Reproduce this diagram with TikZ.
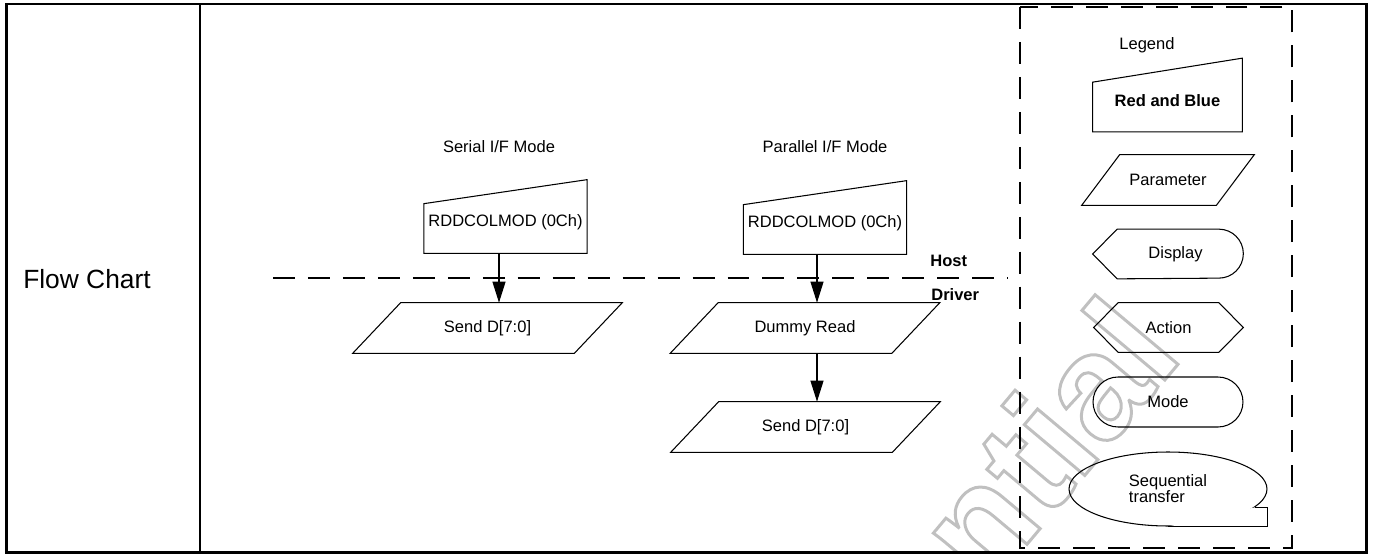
\documentclass[tikz,border=0pt]{standalone}
\usepackage{fontspec}
\setmainfont{Liberation Sans}
\usetikzlibrary{positioning,calc,arrows.meta,shapes.geometric,shapes.misc}
\definecolor{wmgray}{RGB}{192,192,192}
\makeatletter
\newcommand{\hollow}[1]{\pgfsys@invoke{1 Tr 1.7 w}#1\pgfsys@invoke{0 Tr}}
\makeatother

\begin{document}
\begin{tikzpicture}[
  x=0.02cm, y=-0.02cm,
  txt/.style={font=\fontsize{9.4}{9.2}\selectfont, inner sep=0pt},
  boldtxt/.style={font=\fontsize{9.4}{11}\selectfont\bfseries, inner sep=0pt},
  manin/.style={txt, minimum width=3.25cm, minimum height=1.22cm},
  para/.style={txt, minimum width=4.42cm, minimum height=1cm},
  shapeline/.style={line width=0.6pt},
  flowarr/.style={-{Triangle[length=0.42cm, width=0.26cm]}, line width=0.6pt},
  sepline/.style={line width=1.2pt, dash pattern=on 12.5pt off 7.4pt},
]

\useasboundingbox (0,0) rectangle (1374,554);

% watermark
\begin{scope}
  \clip (0,0) rectangle (1374,554);
  \node[text=wmgray, font=\fontsize{85}{85}\selectfont\bfseries, inner sep=0pt,
        rotate=50, anchor=base east] (wm) at (1185,356) {\hollow{Confidential}};
\end{scope}

% table frame
\draw[line width=1.4pt] (6.5,4) rectangle (1366.5,552.5);
\draw[line width=2pt] (6.5,4) -- (6.5,552.5) (1366.5,4) -- (1366.5,552.5);
\draw[line width=1.2pt] (200,4) -- (200,552.5);
\node[font=\fontsize{15}{18}\selectfont] (fc) at (87,279) {Flow Chart};

% host / driver border
\draw[sepline] (273,278) -- (1008,278);
\node[boldtxt, anchor=west] (host) at (930,261) {Host};
\node[boldtxt, anchor=west] (driver) at (931,295) {Driver};

% serial interface
\node[txt] (serlbl) at (499,147) {Serial I/F Mode};
\node[manin] (rdd1) at (505.5,222.5) {RDDCOLMOD (0Ch)};
\node[para] (send1) at (487.5,328) {Send D[7:0]};

% parallel interface
\node[txt] (parlbl) at (825,147) {Parallel I/F Mode};
\node[manin] (rdd2) at (825,223.5) {RDDCOLMOD (0Ch)};
\node[para] (dummy) at (805,328) {Dummy Read};
\node[para] (send2) at (805.5,427) {Send D[7:0]};

% legend
\draw[sepline] (1020,7) rectangle (1292,548);
\node[txt] (leg) at (1147,45) {Legend};
\node[manin, minimum width=2.98cm, font=\fontsize{9.4}{11}\selectfont\bfseries] (redblue) at (1167.5,101) {Red and Blue};
\node[para, minimum width=2.68cm] (param) at (1168,180) {Parameter};
\node[txt, minimum width=3cm, minimum height=0.98cm] (disp) at (1168,254) {\hspace*{0.3cm}Display};
\node[txt, minimum width=2.98cm, minimum height=0.98cm] (act) at (1168.5,327.5) {Action};
\node[txt, shapeline, draw, rounded rectangle, minimum width=3cm, minimum height=1cm] (mode) at (1168,402) {Mode};
\node[txt, shapeline, draw, ellipse, minimum width=3.96cm, minimum height=1.48cm, align=left] (seq) at (1168,489) {Sequential\\transfer};

% outlines
\foreach \n in {rdd1,rdd2,redblue}
  \draw[shapeline] ([yshift=-0.24cm]\n.north west) -- ([yshift=0.24cm]\n.north east)
    -- (\n.south east) -- (\n.south west) -- cycle;
\foreach \n/\s in {send1/0.48cm,dummy/0.48cm,send2/0.48cm,param/0.38cm}
  \draw[shapeline] ([xshift=-\s]\n.south west) -- ([xshift=\s]\n.north west)
    -- ([xshift=\s]\n.north east) -- ([xshift=-\s]\n.south east) -- cycle;
\draw[shapeline] (disp.west) -- ([xshift=0.49cm]disp.north west) -- ([xshift=-0.49cm]disp.north east)
  arc[start angle=90, end angle=-90, radius=0.49cm] -- ([xshift=0.49cm]disp.south west) -- cycle;
\draw[shapeline] (act.west) -- ([xshift=0.49cm]act.north west) -- ([xshift=-0.49cm]act.north east)
  -- (act.east) -- ([xshift=-0.49cm]act.south east) -- ([xshift=0.49cm]act.south west) -- cycle;
\draw[shapeline, fill=white] (seq.south) -- (seq.south -| seq.east) -- (seq.east |- seq.-12) -- (seq.-12);

% arrows
\draw[flowarr] ([xshift=-0.13cm]rdd1.south) -- ([xshift=-0.13cm]rdd1.south |- send1.north);
\draw[flowarr] ([xshift=-0.16cm]rdd2.south) -- ([xshift=-0.16cm]rdd2.south |- dummy.north);
\draw[flowarr] ([xshift=0.24cm]dummy.south) -- ([xshift=0.24cm]dummy.south |- send2.north);

\end{tikzpicture}
\end{document}
